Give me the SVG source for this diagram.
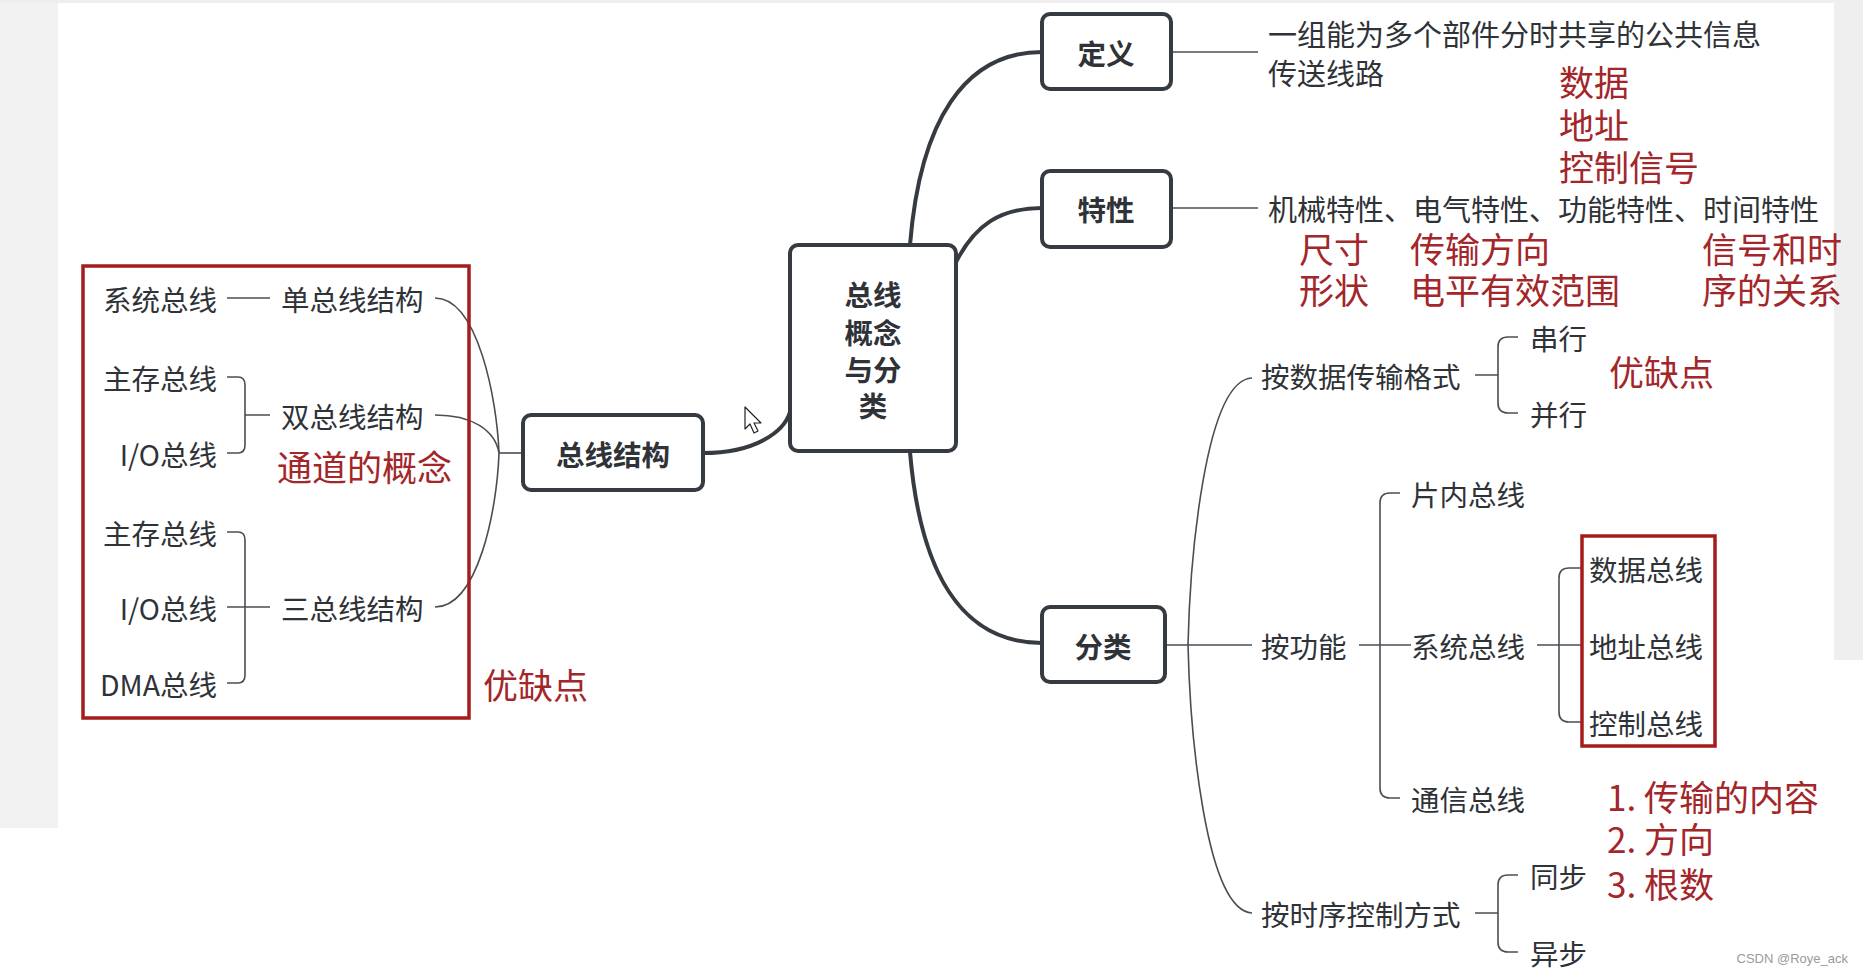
<svg xmlns="http://www.w3.org/2000/svg" width="1863" height="975" viewBox="0 0 1863 975">
<style>
.t{font-family:"Noto Sans CJK SC","Noto Sans",sans-serif;font-size:28.5px;fill:#2f3338;dominant-baseline:central}
.b{font-weight:bold}
.r{font-family:"Noto Sans CJK SC","Noto Sans",sans-serif;font-size:35px;fill:#a3262a;dominant-baseline:central}
.box{fill:#fff;stroke:#363b41;stroke-width:4}
.main{fill:none;stroke:#363b41;stroke-width:4;stroke-linecap:round}
.thin{fill:none;stroke:#4a4e53;stroke-width:1.6}
.red{fill:none;stroke:#a51c1c;stroke-width:3.5}
.e{text-anchor:end}
.m{text-anchor:middle}
</style>
<rect x="0" y="0" width="1863" height="975" fill="#ffffff"/>
<rect x="0" y="0" width="58" height="828" fill="#f2f2f2"/>
<rect x="1834" y="0" width="29" height="660" fill="#efefef"/>
<rect x="0" y="0" width="1863" height="3" fill="#eeeeee"/>

<g id="connectors">
  <path class="main" d="M703,453 C755,453 784,432 790,412"/>
  <path class="main" d="M910,245 C920,120 965,52 1042,52"/>
  <path class="main" d="M956,262 C975,225 1000,208 1042,208"/>
  <path class="main" d="M910,452 C920,570 960,643 1042,643"/>
  <path class="thin" d="M1171,52 H1258"/>
  <path class="thin" d="M1171,208 H1258"/>
  <!-- left tree -->
  <path class="thin" d="M435,298 C478,298 497,400 499,453"/>
  <path class="thin" d="M435,415 C472,415 495,430 499,453"/>
  <path class="thin" d="M435,607 C478,607 497,510 499,453"/>
  <path class="thin" d="M499,453 H523"/>
  <path class="thin" d="M227,298 H270"/>
  <path class="thin" d="M227,377 H238 Q245,377 245,385 V445 Q245,453 238,453 H227 M245,415 H270"/>
  <path class="thin" d="M227,532 H238 Q245,532 245,540 V675 Q245,683 238,683 H227 M227,607 H270"/>
  <!-- classification -->
  <path class="thin" d="M1165,645 H1252"/>
  <path class="thin" d="M1252,378 C1205,380 1190,560 1188,645 C1190,730 1205,910 1252,913"/>
  <path class="thin" d="M1475,375 H1498 M1518,337 H1508 Q1498,337 1498,347 V403 Q1498,413 1508,413 H1518"/>
  <path class="thin" d="M1359,645 H1411 M1400,493 H1390 Q1380,493 1380,503 V788 Q1380,798 1390,798 H1400"/>
  <path class="thin" d="M1537,645 H1582 M1582,568 H1569 Q1559,568 1559,578 V712 Q1559,722 1569,722 H1582"/>
  <path class="thin" d="M1475,913 H1498 M1518,875 H1508 Q1498,875 1498,885 V942 Q1498,952 1508,952 H1518"/>
</g>

<g id="n-left-redbox"><rect class="red" x="83" y="266" width="386" height="452"/></g>
<g id="n-sysbus1"><text class="t e" x="217" y="298">系统总线</text></g>
<g id="n-single"><text class="t" x="281" y="298">单总线结构</text></g>
<g id="n-main1"><text class="t e" x="217" y="377">主存总线</text></g>
<g id="n-io1"><text class="t e" x="217" y="453">I/O总线</text></g>
<g id="n-double"><text class="t" x="281" y="415">双总线结构</text></g>
<g id="n-channel"><text class="r" x="277" y="465">通道的概念</text></g>
<g id="n-main2"><text class="t e" x="217" y="532">主存总线</text></g>
<g id="n-io2"><text class="t e" x="217" y="607">I/O总线</text></g>
<g id="n-dma"><text class="t e" x="217" y="683">DMA总线</text></g>
<g id="n-triple"><text class="t" x="281" y="607">三总线结构</text></g>
<g id="n-pros1"><text class="r" x="483" y="683">优缺点</text></g>

<g id="n-structure"><rect class="box" x="523" y="415" width="180" height="75" rx="8"/><text class="t b m" x="613" y="453">总线结构</text></g>
<g id="n-center"><rect class="box" x="790" y="245" width="166" height="206" rx="8"/>
  <text class="t b m" x="873" y="293">总线</text><text class="t b m" x="873" y="331">概念</text><text class="t b m" x="873" y="368">与分</text><text class="t b m" x="873" y="404">类</text></g>
<g id="n-def"><rect class="box" x="1042" y="14" width="129" height="75" rx="8"/><text class="t b m" x="1106" y="52">定义</text></g>
<g id="n-char"><rect class="box" x="1042" y="171" width="129" height="76" rx="8"/><text class="t b m" x="1106" y="208">特性</text></g>
<g id="n-class"><rect class="box" x="1042" y="607" width="123" height="75" rx="8"/><text class="t b m" x="1103" y="645">分类</text></g>

<g id="n-def-text"><text class="t" x="1268" y="33" style="font-size:29px">一组能为多个部件分时共享的公共信息</text><text class="t" x="1268" y="72" style="font-size:29px">传送线路</text></g>
<g id="n-def-note"><text class="r" x="1559" y="80">数据</text><text class="r" x="1559" y="123">地址</text><text class="r" x="1559" y="165">控制信号</text></g>
<g id="n-char-text"><text class="t" x="1268" y="208" style="font-size:29px">机械特性、电气特性、功能特性、时间特性</text></g>
<g id="n-char-note1"><text class="r" x="1299" y="247">尺寸</text><text class="r" x="1299" y="288">形状</text></g>
<g id="n-char-note2"><text class="r" x="1410" y="247">传输方向</text><text class="r" x="1410" y="288">电平有效范围</text></g>
<g id="n-char-note3"><text class="r" x="1702" y="247">信号和时</text><text class="r" x="1702" y="288">序的关系</text></g>

<g id="n-format"><text class="t" x="1261" y="375">按数据传输格式</text></g>
<g id="n-serial"><text class="t" x="1530" y="337">串行</text></g>
<g id="n-parallel"><text class="t" x="1530" y="413">并行</text></g>
<g id="n-pros2"><text class="r" x="1609" y="370">优缺点</text></g>
<g id="n-func"><text class="t" x="1261" y="645">按功能</text></g>
<g id="n-onchip"><text class="t" x="1411" y="493">片内总线</text></g>
<g id="n-sysbus2"><text class="t" x="1411" y="645">系统总线</text></g>
<g id="n-comm"><text class="t" x="1411" y="798">通信总线</text></g>
<g id="n-right-redbox"><rect class="red" x="1582" y="536" width="133" height="210"/></g>
<g id="n-databus"><text class="t" x="1589" y="568">数据总线</text></g>
<g id="n-addrbus"><text class="t" x="1589" y="645">地址总线</text></g>
<g id="n-ctrlbus"><text class="t" x="1589" y="722">控制总线</text></g>
<g id="n-comm-note"><text class="r" x="1607" y="795">1. 传输的内容</text><text class="r" x="1607" y="837">2. 方向</text><text class="r" x="1607" y="882">3. 根数</text></g>
<g id="n-timing"><text class="t" x="1261" y="913">按时序控制方式</text></g>
<g id="n-sync"><text class="t" x="1530" y="875">同步</text></g>
<g id="n-async"><text class="t" x="1530" y="952">异步</text></g>

<g id="cursor"><path d="M745,407 L745,429 L750,424 L754,433 L758,431 L754,423 L761,423 Z" fill="#fff" stroke="#222" stroke-width="1.2" stroke-linejoin="round"/></g>
<text x="1848" y="958" text-anchor="end" style="font-family:'Liberation Sans',sans-serif;font-size:13px;fill:#9a9a9a;dominant-baseline:central">CSDN @Roye_ack</text>
</svg>
